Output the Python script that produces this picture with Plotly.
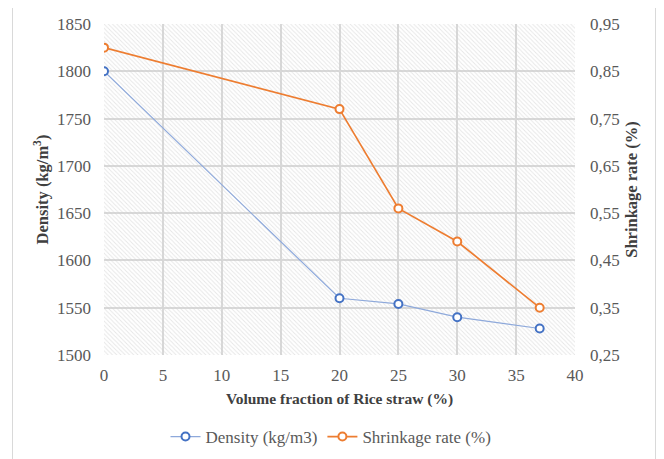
import plotly.graph_objects as go

volume_fraction = [0, 20, 25, 30, 37]
density = [1800, 1560, 1554, 1540, 1528]
shrinkage = [0.90, 0.77, 0.56, 0.49, 0.35]

x_range = [0, 40]
y1_range = [1500, 1850]
y2_range = [0.25, 0.95]

OFF = 8  # page offset of the figure
W, H = 664, 459
L, T = 104 - OFF, 24 - OFF
R = W - (575 - OFF)
B = H - (355 - OFF)
pw, ph = W - L - R, H - T - B

def px(x):
    return (x - OFF - L) / pw

def py(y):
    return (H - B - (y - OFF)) / ph

font_family = "Liberation Serif, Times New Roman, serif"
tick_col = "#595959"
title_col = "#404040"
grid_col = "#d9d9d9"
blue = "#4472C4"
orange = "#ED7D31"

fig = go.Figure()

# hatched plot-area background
fig.add_trace(go.Bar(
    x=[(x_range[0] + x_range[1]) / 2], y=[y1_range[1] - y1_range[0]], base=[y1_range[0]],
    width=[x_range[1] - x_range[0]],
    marker=dict(color="rgba(255,255,255,0)", line=dict(width=0),
                pattern=dict(shape="\\", fgcolor="#cccccc", bgcolor="rgba(255,255,255,0)",
                             size=3, solidity=0.3, fillmode="overlay")),
    hoverinfo="skip", showlegend=False,
))

fig.add_trace(go.Scatter(
    x=volume_fraction, y=density, name="Density (kg/m3)", mode="lines+markers",
    line=dict(color="#8EA9DB", width=1.2),
    marker=dict(symbol="circle", size=8, color="white", line=dict(color=blue, width=2)),
))
fig.add_trace(go.Scatter(
    x=volume_fraction, y=shrinkage, name="Shrinkage rate (%)", mode="lines+markers",
    yaxis="y2",
    line=dict(color=orange, width=1.7),
    marker=dict(symbol="circle", size=8, color="white", line=dict(color=orange, width=2)),
))

fig.update_layout(
    width=W, height=H,
    margin=dict(l=L, r=R, t=T, b=B, autoexpand=False),
    paper_bgcolor="white", plot_bgcolor="white",
    separators=",.",
    font=dict(family=font_family, size=17, color=tick_col),
    xaxis=dict(range=x_range, dtick=5, tick0=0, showgrid=True, gridcolor=grid_col, gridwidth=1.5,
               zeroline=False, showline=False, ticks="", ticklabelstandoff=8, automargin=False,
               title=dict(text="<b>Volume fraction of Rice straw (%)</b>",
                          font=dict(size=15.5, color=title_col), standoff=9),
               tickfont=dict(size=17, color=tick_col)),
    yaxis=dict(range=y1_range, dtick=50, showgrid=True, gridcolor=grid_col, gridwidth=1.5,
               zeroline=False, showline=False, ticks="", ticklabelstandoff=12, automargin=False,
               title=dict(text="<b>Density (kg/m<sup>3</sup>)</b>",
                          font=dict(size=16.5, color=title_col), standoff=4),
               tickfont=dict(size=17, color=tick_col)),
    yaxis2=dict(range=y2_range, dtick=0.1, tick0=0.25, tickformat=".2f", overlaying="y", side="right",
                showgrid=False, zeroline=False, showline=False, ticks="", ticklabelstandoff=14,
                automargin=False,
                title=dict(text="<b>Shrinkage rate (%)</b>",
                           font=dict(size=16.5, color=title_col), standoff=6),
                tickfont=dict(size=17, color=tick_col)),
    legend=dict(orientation="h", x=px(331), xanchor="center", y=py(437), yanchor="middle",
                font=dict(size=17, color=tick_col), bgcolor="rgba(0,0,0,0)",
                itemwidth=30),
    bargap=0,
    showlegend=True,
)

# outer chart border
fig.add_shape(type="rect", xref="paper", yref="paper",
              x0=px(12.5), x1=px(655.5), y0=py(466), y1=py(7.5),
              line=dict(color="#d9d9d9", width=1), fillcolor="rgba(0,0,0,0)", layer="below")

# cut-off title glimpse
fig.add_annotation(text="y", xref="paper", yref="paper", x=px(281), y=py(3),
                   xanchor="center", yanchor="bottom", showarrow=False,
                   font=dict(size=16, color="#000000", family=font_family))

fig.write_html("out.html")
